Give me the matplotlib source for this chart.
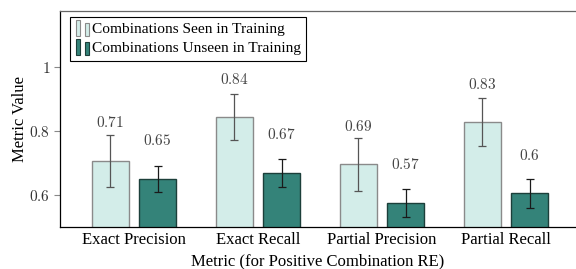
import numpy as np
import matplotlib
matplotlib.use('Agg')
import matplotlib.pyplot as plt
from matplotlib.patches import Rectangle
from matplotlib.legend_handler import HandlerBase

# data
metrics = ['Exact Precision', 'Exact Recall', 'Partial Precision', 'Partial Recall']
seen = [0.706, 0.842, 0.695, 0.826]
seen_err = [0.081, 0.072, 0.083, 0.075]
unseen = [0.649, 0.668, 0.574, 0.604]
unseen_err = [0.040, 0.043, 0.045, 0.046]
series_names = ['Combinations Seen in Training', 'Combinations Unseen in Training']
yticks = [0.6, 0.8, 1.0]

plt.rcParams['font.family'] = ['Liberation Serif', 'DejaVu Serif']
plt.rcParams['mathtext.fontset'] = 'cm'

seen_fill, seen_edge = '#d3ede9', '#8a8a8a'
unseen_fill, unseen_edge = '#348379', '#1c3f3a'


class TwoBarHandler(HandlerBase):
    # pgfplots-style ybar legend image: two little bars
    def create_artists(self, legend, orig_handle, xdescent, ydescent,
                       width, height, fontsize, trans):
        fc = orig_handle.get_facecolor()
        ec = orig_handle.get_edgecolor()
        r1 = Rectangle((0, -2), 3.2, height + 4, facecolor=fc, edgecolor=ec,
                       lw=0.8, transform=trans)
        r2 = Rectangle((6.5, -2), 3.2, height + 1.5, facecolor=fc, edgecolor=ec,
                       lw=0.8, transform=trans)
        return [r1, r2]


fig = plt.figure(figsize=(5.76, 2.69), dpi=100)
ax = fig.add_axes([60 / 576, 1 - 226.7 / 269, 1 - 60 / 576, (226.7 - 10.5) / 269])

x = np.arange(len(metrics))
w = 0.30
off = 0.19
b1 = ax.bar(x - off, seen, w, color=seen_fill, edgecolor=seen_edge, lw=1.0,
            label=series_names[0], zorder=2)
b2 = ax.bar(x + off, unseen, w, color=unseen_fill, edgecolor=unseen_edge, lw=1.0,
            label=series_names[1], zorder=2)
ax.errorbar(x - off, seen, yerr=seen_err, fmt='none', ecolor='#555555',
            elinewidth=0.9, capsize=3, capthick=0.9, zorder=3)
ax.errorbar(x + off, unseen, yerr=unseen_err, fmt='none', ecolor='#1a1a1a',
            elinewidth=0.9, capsize=3, capthick=0.9, zorder=3)

for xs, vals in [(x - off, seen), (x + off, unseen)]:
    for xi, v in zip(xs, vals):
        lab = f'{v:.2f}'.rstrip('0')
        ax.annotate(f'${lab}$', (xi, v), xytext=(0, 27.5), textcoords='offset points',
                    ha='center', va='center', fontsize=11, color='#444444')

ax.set_xlim(-0.597, 3.565)
ax.set_ylim(0.5, 1.176)
ax.set_xticks(x)
ax.set_xticklabels(metrics, fontsize=12)
ax.tick_params(axis='x', length=0, pad=4)
ax.set_yticks(yticks)
ax.set_yticklabels([f'${t:g}$' for t in yticks], fontsize=11, color='#333333')
ax.tick_params(axis='y', length=4, width=0.8, color='#888888', pad=3)

ax.spines['right'].set_visible(False)
ax.spines['top'].set_color('#666666')
for s in ['left', 'bottom', 'top']:
    ax.spines[s].set_linewidth(0.9)

ax.set_ylabel('Metric Value', fontsize=12, labelpad=1)
ax.set_xlabel('Metric (for Positive Combination RE)', fontsize=12, labelpad=4)

leg = ax.legend(handles=[b1.patches[0], b2.patches[0]], labels=series_names,
                handler_map={Rectangle: TwoBarHandler()},
                loc='upper left', bbox_to_anchor=(0.02, 0.97), fontsize=11.1,
                fancybox=False, framealpha=1, edgecolor='black',
                handlelength=0.85, handletextpad=0.2, borderpad=0.35,
                labelspacing=0.35, borderaxespad=0)
leg.get_frame().set_linewidth(0.8)

fig.savefig('out.png', dpi=100)
